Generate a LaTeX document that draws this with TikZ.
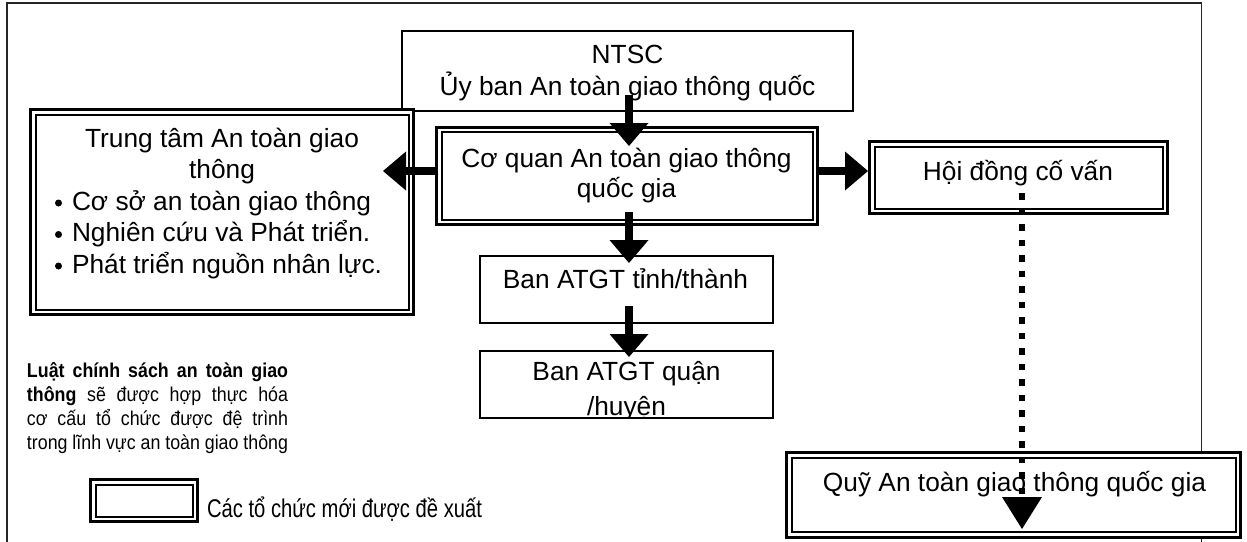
\documentclass[tikz,border=0pt]{standalone}
\usepackage{fontspec}
\usepackage{graphicx}
\setmainfont{Liberation Sans}
\usetikzlibrary{arrows.meta,calc}
% thin inner rule of a "new organisation" box
\newcommand\drawinnerrule[1]{\draw[innerrule] ($(#1.north west)+(5,5)$) rectangle ($(#1.south east)+(-5,-5)$);}
\tikzset{
  outerframe/.style={draw=black!85, line width=1.5pt},
  plainbox/.style={draw, line width=2pt, fill=white, inner sep=0pt, outer sep=0pt},
  newbox/.style={draw, line width=3pt, fill=white, inner sep=0pt, outer sep=0pt},
  innerrule/.style={draw, line width=2pt},
  txt/.style={inner sep=0pt, outer sep=0pt, anchor=base, font=\fontsize{26.3}{31.5}\selectfont},
  txtleft/.style={txt, anchor=base west},
  bigarrow/.style={line width=7.5pt, -{Triangle[width=39pt,length=23pt,line width=0pt]}},
  dotarrow/.style={line width=6.5pt, dash pattern=on 6.5pt off 9pt, -{Triangle[width=40pt,length=32pt,line width=0pt]}},
}
\begin{document}
\begin{tikzpicture}[x=1pt,y=-1pt]
\useasboundingbox (0,0) rectangle (1247,541);
\clip (0,0) rectangle (1247,541);
\fill[white] (0,0) rectangle (1247,541);

% page frame (open at the bottom)
\draw[outerframe] (7,560) -- (7,3) -- (1201.7,3) -- (1201.7,560);

% boxes
\node[plainbox, minimum width=451pt, minimum height=79.5pt] (ntsc) at (627.5,70.75) {};
\node[newbox, minimum width=383pt, minimum height=205pt] (tt) at (222,212) {};
\drawinnerrule{tt}
\node[newbox, minimum width=381pt, minimum height=97.5pt] (cq) at (627,175.75) {};
\drawinnerrule{cq}
\node[newbox, minimum width=298pt, minimum height=72pt] (hd) at (1018.5,177.5) {};
\drawinnerrule{hd}
\node[plainbox, minimum width=293pt, minimum height=67pt] (tinh) at (626.5,289.5) {};
\node[plainbox, minimum width=293pt, minimum height=67pt] (quan) at (626.5,384.5) {};
\node[newbox, minimum width=454pt, minimum height=84.5pt] (quy) at (1013.5,494.75) {};
\drawinnerrule{quy}
\node[newbox, minimum width=107pt, minimum height=42pt] (leg) at (144,500.5) {};
\drawinnerrule{leg}

% box texts
\node[txt] (ntsc1) at ($(ntsc)+(0,-7.75)$) {NTSC};
\node[txt] (ntsc2) at ($(ntsc)+(0,24.25)$) {Ủy ban An toàn giao thông quốc};

\node[txt] (cq1) at ($(cq)+(-0.5,-8.75)$) {Cơ quan An toàn giao thông};
\node[txt] (cq2) at ($(cq)+(-0.5,21.25)$) {quốc gia};

\node[txt] (tt1) at ($(tt)+(0,-65)$) {Trung tâm An toàn giao};
\node[txt] (tt2) at ($(tt)+(0,-33.5)$) {thông};
\node[txtleft] (tt3) at ($(tt.west)+(41.5,-2)$) {Cơ sở an toàn giao thông};
\node[txtleft] (tt4) at ($(tt.west)+(41.5,29.5)$) {Nghiên cứu và Phát triển.};
\node[txtleft] (tt5) at ($(tt.west)+(41.5,61)$) {Phát triển nguồn nhân lực.};
\fill ($(tt.west)+(28,-9)$) circle (3.5pt);
\fill ($(tt.west)+(28,22.5)$) circle (3.5pt);
\fill ($(tt.west)+(28,54)$) circle (3.5pt);

\node[txt] (hd1) at ($(hd)+(-0.5,2.5)$) {Hội đồng cố vấn};
\node[txt] (quy1) at ($(quy)+(1,-3.75)$) {Quỹ An toàn giao thông quốc gia};
\node[txt] (tinh1) at ($(tinh)+(-1,-1.5)$) {Ban ATGT tỉnh/thành};
\node[txt] (quan1) at ($(quan)+(0,-4.5)$) {Ban ATGT quận};
% the second line runs into the lower edge and is cut by it
\begin{scope}
  \clip (quan.north west) rectangle (quan.south east);
  \node[txt] (quan2) at ($(quan)+(0,31)$) {/huyện};
\end{scope}

% note on the law
\node[inner sep=0pt, outer sep=0pt, anchor=base west] (law) at (27,377)
  {\scalebox{0.89}[1]{\parbox[t]{293.3pt}{\fontsize{20}{24}\selectfont
   \textbf{Luật chính sách an toàn giao}\linebreak
   \textbf{thông} sẽ được hợp thực hóa\linebreak
   cơ cấu tổ chức được đệ trình\linebreak
   trong lĩnh vực an toàn giao thông}}};

% legend
\node[inner sep=0pt, outer sep=0pt, anchor=base west] (legtext) at ($(leg.east)+(9.5,16.5)$)
  {\scalebox{0.79}[1]{\fontsize{25.6}{30}\selectfont Các tổ chức mới được đề xuất}};

% connectors
\draw[bigarrow] ($(ntsc.south)+(1.5,-15.5)$) -- ($(cq.north)+(2,19)$);
\draw[bigarrow] ($(cq.west)+(-1.5,-4.75)$) -- ($(cq.west -| tt.east)+(-30.5,-4.75)$);
\draw[bigarrow] ($(cq.east)+(1.5,-4.75)$) -- ($(cq.east -| hd.west)+(-1.5,-4.75)$);
\draw[bigarrow] ($(cq.south)+(2,-12.5)$) -- ($(tinh.north)+(2.5,7)$);
\draw[bigarrow] ($(tinh.south)+(2.5,-17)$) -- ($(quan.north)+(2.5,6)$);
\draw[dotarrow] ($(hd.south)+(3.5,-20.5)$) -- ($(hd.south |- quy.south)+(3.5,-8)$);
\end{tikzpicture}
\end{document}
